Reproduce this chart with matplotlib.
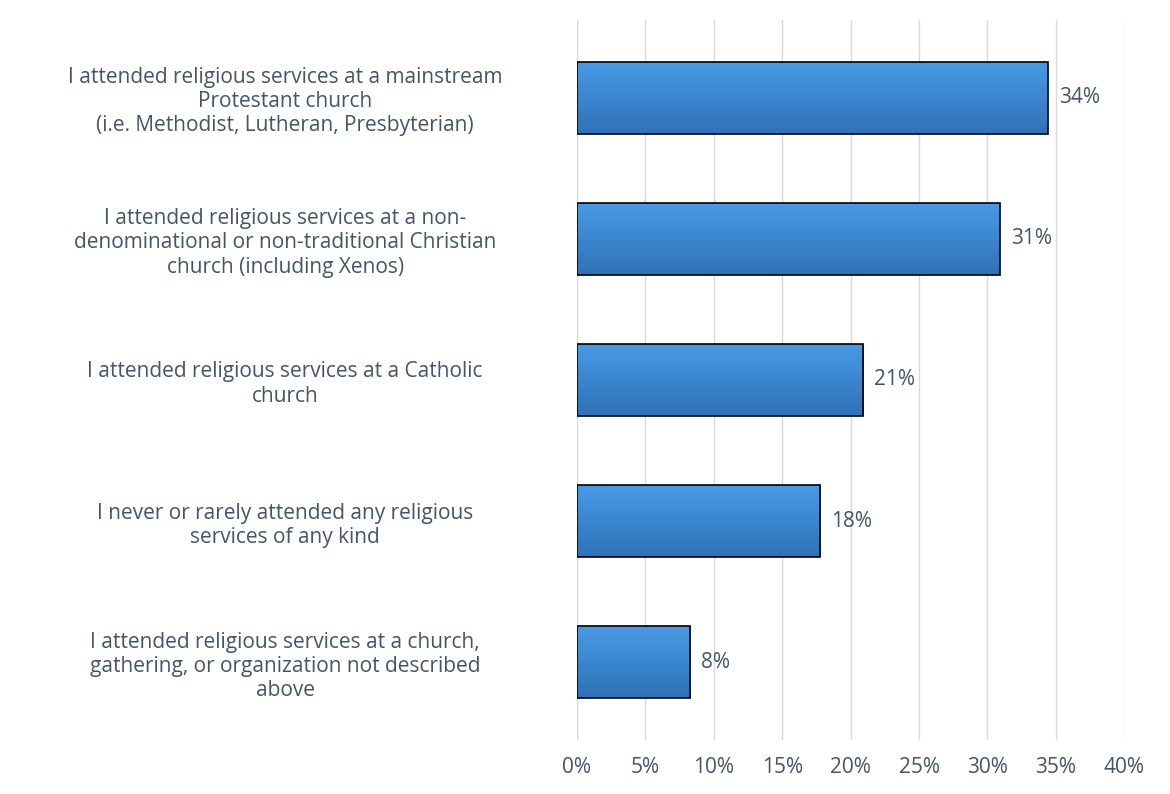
import matplotlib
matplotlib.use("Agg")
import matplotlib.pyplot as plt
import numpy as np
from matplotlib.colors import LinearSegmentedColormap

CATEGORIES = [
    "I attended religious services at a mainstream\nProtestant church\n(i.e. Methodist, Lutheran, Presbyterian)",
    "I attended religious services at a non-\ndenominational or non-traditional Christian\nchurch (including Xenos)",
    "I attended religious services at a Catholic\nchurch",
    "I never or rarely attended any religious\nservices of any kind",
    "I attended religious services at a church,\ngathering, or organization not described\nabove",
]
VALUES = [34.4, 30.9, 20.9, 17.8, 8.3]
LABELS = ["34%", "31%", "21%", "18%", "8%"]
TICKS = [0, 5, 10, 15, 20, 25, 30, 35, 40]

TEXT = "#44546a"
plt.rcParams["font.family"] = "Open Sans"

fig = plt.figure(figsize=(11.7, 7.94), dpi=100)
ax = fig.add_axes([0.493, 0.068, 0.468, 0.907])
y = np.arange(len(VALUES))[::-1]
bars = ax.barh(y, VALUES, height=0.51, color="none", edgecolor="black", lw=1.2, zorder=3)

cmap = LinearSegmentedColormap.from_list("g", ["#2f72b8", "#4a9ae6"])
grad = np.linspace(0, 1, 100).reshape(-1, 1)
for b in bars:
    x0, y0, w, h = b.get_x(), b.get_y(), b.get_width(), b.get_height()
    im = ax.imshow(grad, cmap=cmap, aspect="auto", extent=[x0, x0 + w, y0, y0 + h],
                   origin="lower", zorder=2)
    im.set_clip_path(b)

for yi, v, lab in zip(y, VALUES, LABELS):
    ax.text(v + 0.8, yi, lab, va="center", ha="left", fontsize=15, color=TEXT)

ax.set_xlim(0, 40)
ax.set_ylim(-0.55, 4.55)
ax.set_xticks(TICKS)
ax.set_xticklabels([f"{t}%" for t in TICKS], fontsize=15, color=TEXT)
ax.set_yticks(y)
ax.set_yticklabels(CATEGORIES, fontsize=15, color=TEXT, ha="center", linespacing=1.2)
ax.tick_params(axis="y", length=0, pad=210)
ax.tick_params(axis="x", length=0, pad=12)
ax.grid(axis="x", color="#d9d9d9", lw=1, zorder=0)
for s in ax.spines.values():
    s.set_visible(False)
ax.axvline(0, color="#d9d9d9", lw=1, zorder=1)

fig.savefig("out.png", dpi=100)
